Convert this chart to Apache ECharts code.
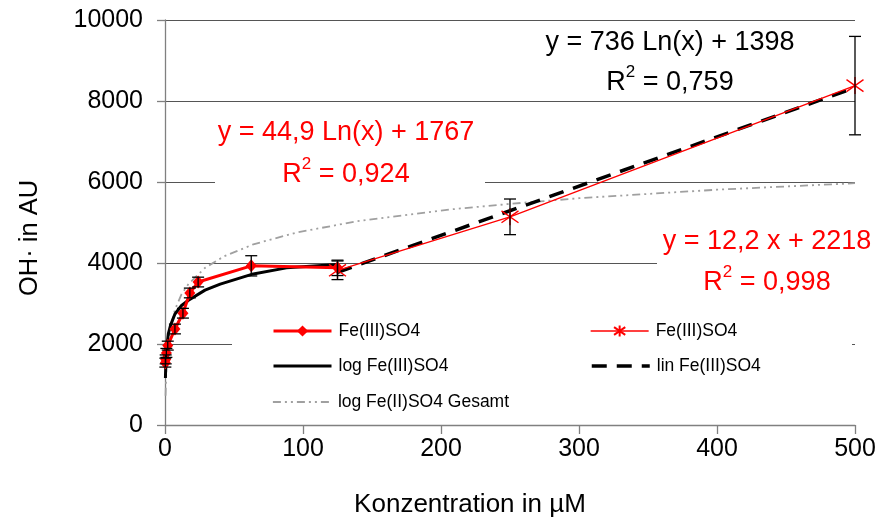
<!DOCTYPE html>
<html>
<head>
<meta charset="utf-8">
<script src="https://cdn.jsdelivr.net/npm/echarts@6/dist/echarts.min.js"></script>
<style>html,body{margin:0;padding:0;background:#fff}#c{width:879px;height:522px}</style>
</head>
<body>
<div id="c"></div>
<script>
// ---- data ----
const xTicks = [0, 100, 200, 300, 400, 500];
const yTicks = [0, 2000, 4000, 6000, 8000, 10000];

const diamondX   = [0.25, 0.5, 1, 2, 7.2, 13, 18, 24, 62.5, 125];
const diamondY   = [1540, 1620, 1780, 1960, 2370, 2760, 3260, 3530, 3930, 3880];
const diamondErr = [110, 110, 110, 110, 120, 120, 120, 120, 250, 190];

const starX   = [125, 250, 500];
const starY   = [3820, 5140, 8380];
const starErr = [230, 440, 1215];

const logFitX = [0.3, 0.6, 1, 1.5, 2.4, 4, 7.2, 12, 17, 29, 40, 64, 88, 125];
const logFitY = [1160, 1520, 1800, 1980, 2250, 2460, 2740, 2950, 3080, 3330, 3480, 3730, 3880, 3960];

const linFitX = [125, 500];
const linFitY = [3770, 8330];

const grayFitX = [0.4, 1, 2, 4, 7.2, 12, 17, 29, 43, 64, 95, 139, 206, 250, 300, 400, 500];
const grayFitY = [720, 1400, 1910, 2420, 2850, 3230, 3480, 3880, 4170, 4460, 4750, 5030, 5320, 5460, 5600, 5810, 5970];

const FONT = "'Liberation Sans', Arial, sans-serif";
const RED = '#ff0000';
const CLEAR = 'rgba(0,0,0,0)';

const zip = (xs, ys) => xs.map((x, i) => [x, ys[i]]);
const errData = (xs, ys, es) => xs.map((x, i) => [x, ys[i] - es[i], ys[i] + es[i]]);

const chart = echarts.init(document.getElementById('c'), null, {renderer: 'canvas'});

function errRender(params, api) {
  const x = api.value(0);
  const lo = api.coord([x, api.value(1)]);
  const hi = api.coord([x, api.value(2)]);
  const hw = 6;
  const st = {stroke: '#000', lineWidth: 1.3};
  return {
    type: 'group',
    children: [
      {type: 'line', shape: {x1: lo[0], y1: lo[1], x2: hi[0], y2: hi[1]}, style: st},
      {type: 'line', shape: {x1: hi[0] - hw, y1: hi[1], x2: hi[0] + hw, y2: hi[1]}, style: st},
      {type: 'line', shape: {x1: lo[0] - hw, y1: lo[1], x2: lo[0] + hw, y2: lo[1]}, style: st}
    ]
  };
}

const starPath = 'path://M0,-10L0,10M-9,-7L9,7M-9,7L9,-7';

function legendAt(name, left, top) {
  return {
    data: [name], left: left, top: top, padding: 0,
    itemWidth: 58, itemHeight: 14, itemGap: 0,
    formatter: n => n.trim(),
    lineStyle: {width: 'inherit'},
    textStyle: {fontFamily: FONT, fontSize: 17.5, color: '#000', padding: [0, 0, 0, 2]},
    selectedMode: false, z: 10
  };
}

function txt(text, x, y, color, size) {
  return {type: 'text', x: x, y: y, z: 20,
    style: {text: text, fill: color, font: size + 'px ' + FONT, align: 'center', verticalAlign: 'middle'}};
}
function rText(value, x, y, color) {
  return {type: 'text', x: x, y: y, z: 20,
    style: {
      text: '{n|R}{s|2}{n| = ' + value + '}', align: 'center', verticalAlign: 'middle',
      rich: {
        n: {fill: color, fontFamily: FONT, fontSize: 27, lineHeight: 32, verticalAlign: 'bottom'},
        s: {fill: color, fontFamily: FONT, fontSize: 17, lineHeight: 32, verticalAlign: 'top'}
      }
    }};
}
function whiteRect(x, y, w, h) {
  return {type: 'rect', shape: {x: x, y: y, width: w, height: h}, style: {fill: '#fff'}, z: 5};
}

const option = {
  animation: false,
  backgroundColor: '#fff',
  grid: {left: 165, right: 24, top: 20, bottom: 97},
  xAxis: {
    type: 'value', min: xTicks[0], max: xTicks[xTicks.length - 1], interval: 100,
    axisLine: {show: true, lineStyle: {color: '#808080', width: 1.3}},
    axisTick: {show: true, length: 9, lineStyle: {color: '#808080', width: 1.3}},
    axisLabel: {fontFamily: FONT, fontSize: 25, color: '#000', margin: 12, formatter: v => String(v)},
    splitLine: {show: false}
  },
  yAxis: {
    type: 'value', min: yTicks[0], max: yTicks[yTicks.length - 1], interval: 2000,
    axisLine: {show: true, lineStyle: {color: '#808080', width: 1.3}},
    axisTick: {show: true, length: 8, lineStyle: {color: '#808080', width: 1.3}},
    axisLabel: {fontFamily: FONT, fontSize: 25, color: '#000', margin: 22, formatter: v => String(v)},
    splitLine: {show: true, lineStyle: {color: '#555', width: 1}}
  },
  legend: [
    legendAt('Fe(III)SO4', 272, 322),
    legendAt('Fe(III)SO4 ', 590, 322),
    legendAt('log Fe(III)SO4', 272, 357),
    legendAt('lin Fe(III)SO4', 590, 357),
    legendAt('log Fe(II)SO4 Gesamt', 272, 393)
  ],
  graphic: [
    whiteRect(215, 108, 270, 85),
    whiteRect(657, 222, 222, 75),
    whiteRect(232, 303, 620, 118),
    txt('y = 736 Ln(x) + 1398', 670, 43, '#000', 27),
    rText('0,759', 670, 80, '#000'),
    txt('y = 44,9 Ln(x) + 1767', 346, 133, RED, 27),
    rText('0,924', 346, 172, RED),
    txt('y = 12,2 x + 2218', 767, 242, RED, 27),
    rText('0,998', 767, 280, RED),
    {type: 'text', x: 30, y: 238, rotation: Math.PI / 2, z: 20,
      style: {text: 'OH· in AU', fill: '#000', font: '25.5px ' + FONT, align: 'center', verticalAlign: 'middle'}},
    txt('Konzentration in µM', 470, 505, '#000', 26)
  ],
  series: [
    {
      name: 'log Fe(II)SO4 Gesamt', type: 'line', data: zip(grayFitX, grayFitY),
      showSymbol: false, symbol: 'none', z: 2,
      lineStyle: {color: '#a0a0a0', width: 1.8, type: [8, 4, 2, 4, 2, 4]},
      itemStyle: {color: CLEAR, borderWidth: 0}
    },
    {
      name: 'log Fe(III)SO4', type: 'line', data: zip(logFitX, logFitY),
      showSymbol: false, symbol: 'none', z: 3,
      lineStyle: {color: '#000', width: 3},
      itemStyle: {color: CLEAR, borderWidth: 0}
    },
    {
      name: 'lin Fe(III)SO4', type: 'line', data: zip(linFitX, linFitY),
      showSymbol: false, symbol: 'none', z: 3,
      lineStyle: {color: '#000', width: 3.5, type: [15, 10]},
      itemStyle: {color: CLEAR, borderWidth: 0}
    },
    {
      name: 'Fe(III)SO4', type: 'line', data: zip(diamondX, diamondY),
      symbol: 'diamond', symbolSize: [11, 13], z: 4,
      lineStyle: {color: RED, width: 3},
      itemStyle: {color: RED}
    },
    {
      name: 'Fe(III)SO4 ', type: 'line', data: zip(starX, starY),
      symbol: starPath, symbolSize: [17, 17], z: 4,
      lineStyle: {color: RED, width: 1.3},
      itemStyle: {color: CLEAR, borderColor: RED, borderWidth: 1.4}
    },
    {
      type: 'custom', renderItem: errRender, data: errData(diamondX, diamondY, diamondErr), z: 6,
      encode: {x: 0, y: [1, 2]}
    },
    {
      type: 'custom', renderItem: errRender, data: errData(starX, starY, starErr), z: 6,
      encode: {x: 0, y: [1, 2]}
    }
  ]
};
chart.setOption(option);
</script>
</body>
</html>
